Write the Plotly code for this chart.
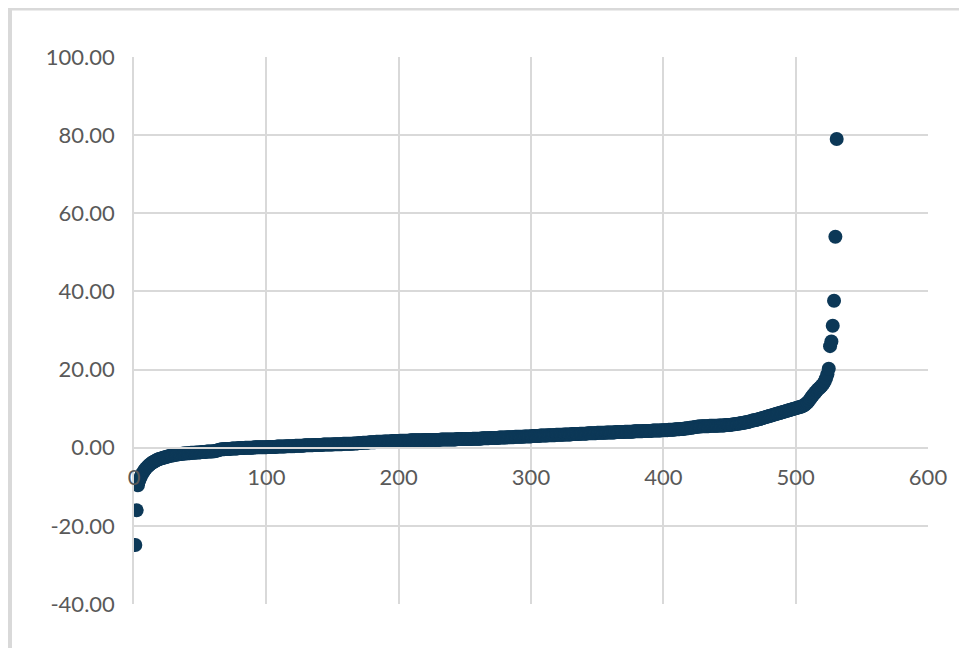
import plotly.graph_objects as go

# Sorted values, index starts at 1
values = [
    -24.9, -16.0, -9.6, -8.4, -7.5, -6.8, -6.2, -5.7, -5.3, -4.9,
    -4.6, -4.3, -4.0, -3.8, -3.6, -3.4, -3.2, -3.0, -2.9, -2.8,
    -2.7, -2.6, -2.5, -2.4, -2.3, -2.2, -2.1, -2.0, -2.0, -1.9,
    -1.8, -1.8, -1.7, -1.7, -1.6, -1.6, -1.5, -1.5, -1.5, -1.4,
    -1.4, -1.4, -1.3, -1.3, -1.3, -1.3, -1.2, -1.2, -1.2, -1.2,
    -1.1, -1.1, -1.1, -1.1, -1.0, -1.0, -1.0, -1.0, -1.0, -0.9,
    -0.9, -0.8, -0.7, -0.6, -0.5, -0.4, -0.4, -0.4, -0.3, -0.3,
    -0.3, -0.3, -0.3, -0.2, -0.2, -0.2, -0.2, -0.2, -0.1, -0.1,
    -0.1, -0.1, -0.1, 0.0, 0.0, 0.0, 0.0, 0.0, 0.0, 0.0,
    0.1, 0.1, 0.1, 0.1, 0.1, 0.1, 0.1, 0.1, 0.1, 0.1,
    0.2, 0.2, 0.2, 0.2, 0.2, 0.2, 0.2, 0.3, 0.3, 0.3,
    0.3, 0.3, 0.3, 0.3, 0.4, 0.4, 0.4, 0.4, 0.4, 0.4,
    0.4, 0.5, 0.5, 0.5, 0.5, 0.5, 0.5, 0.5, 0.6, 0.6,
    0.6, 0.6, 0.6, 0.6, 0.6, 0.7, 0.7, 0.7, 0.7, 0.7,
    0.7, 0.7, 0.8, 0.8, 0.8, 0.8, 0.8, 0.8, 0.8, 0.8,
    0.9, 0.9, 0.9, 0.9, 0.9, 0.9, 0.9, 1.0, 1.0, 1.0,
    1.0, 1.0, 1.0, 1.0, 1.0, 1.1, 1.1, 1.1, 1.1, 1.2,
    1.2, 1.2, 1.3, 1.3, 1.3, 1.3, 1.3, 1.4, 1.4, 1.4,
    1.4, 1.4, 1.5, 1.5, 1.5, 1.5, 1.5, 1.5, 1.6, 1.6,
    1.6, 1.6, 1.6, 1.6, 1.7, 1.7, 1.7, 1.7, 1.7, 1.7,
    1.8, 1.8, 1.8, 1.8, 1.8, 1.8, 1.8, 1.8, 1.9, 1.9,
    1.9, 1.9, 1.9, 1.9, 1.9, 1.9, 1.9, 1.9, 2.0, 2.0,
    2.0, 2.0, 2.0, 2.0, 2.0, 2.0, 2.0, 2.0, 2.0, 2.0,
    2.0, 2.1, 2.1, 2.1, 2.1, 2.1, 2.1, 2.1, 2.1, 2.1,
    2.1, 2.1, 2.1, 2.2, 2.2, 2.2, 2.2, 2.2, 2.2, 2.2,
    2.2, 2.2, 2.2, 2.2, 2.2, 2.3, 2.3, 2.3, 2.3, 2.3,
    2.3, 2.3, 2.4, 2.4, 2.4, 2.4, 2.4, 2.4, 2.5, 2.5,
    2.5, 2.5, 2.5, 2.5, 2.5, 2.6, 2.6, 2.6, 2.6, 2.6,
    2.6, 2.7, 2.7, 2.7, 2.7, 2.7, 2.7, 2.8, 2.8, 2.8,
    2.8, 2.8, 2.8, 2.8, 2.9, 2.9, 2.9, 2.9, 2.9, 2.9,
    3.0, 3.0, 3.0, 3.0, 3.0, 3.0, 3.1, 3.1, 3.1, 3.1,
    3.1, 3.1, 3.2, 3.2, 3.2, 3.2, 3.2, 3.2, 3.3, 3.3,
    3.3, 3.3, 3.3, 3.3, 3.4, 3.4, 3.4, 3.4, 3.4, 3.4,
    3.5, 3.5, 3.5, 3.5, 3.5, 3.5, 3.6, 3.6, 3.6, 3.6,
    3.6, 3.6, 3.7, 3.7, 3.7, 3.7, 3.7, 3.7, 3.7, 3.8,
    3.8, 3.8, 3.8, 3.8, 3.8, 3.8, 3.9, 3.9, 3.9, 3.9,
    3.9, 3.9, 3.9, 4.0, 4.0, 4.0, 4.0, 4.0, 4.0, 4.0,
    4.1, 4.1, 4.1, 4.1, 4.1, 4.1, 4.1, 4.2, 4.2, 4.2,
    4.2, 4.2, 4.2, 4.2, 4.3, 4.3, 4.3, 4.3, 4.3, 4.3,
    4.3, 4.4, 4.4, 4.4, 4.4, 4.4, 4.4, 4.4, 4.5, 4.5,
    4.5, 4.5, 4.5, 4.6, 4.6, 4.6, 4.6, 4.6, 4.7, 4.7,
    4.7, 4.7, 4.8, 4.8, 4.8, 4.9, 4.9, 5.0, 5.0, 5.1,
    5.1, 5.2, 5.2, 5.3, 5.3, 5.4, 5.4, 5.4, 5.5, 5.5,
    5.5, 5.5, 5.5, 5.5, 5.6, 5.6, 5.6, 5.6, 5.6, 5.6,
    5.6, 5.7, 5.7, 5.7, 5.7, 5.7, 5.8, 5.8, 5.8, 5.8,
    5.9, 5.9, 6.0, 6.0, 6.1, 6.1, 6.2, 6.2, 6.3, 6.3,
    6.4, 6.5, 6.5, 6.6, 6.7, 6.8, 6.9, 7.0, 7.0, 7.1,
    7.2, 7.3, 7.4, 7.5, 7.6, 7.7, 7.8, 7.9, 8.0, 8.1,
    8.2, 8.3, 8.4, 8.5, 8.6, 8.7, 8.8, 8.9, 9.0, 9.1,
    9.2, 9.3, 9.4, 9.5, 9.6, 9.7, 9.8, 9.9, 10.0, 10.1,
    10.2, 10.3, 10.4, 10.5, 10.6, 10.8, 11.0, 11.3, 11.6, 12.0,
    12.5, 13.0, 13.4, 13.8, 14.2, 14.6, 15.0, 15.3, 15.6, 16.0,
    16.4, 17.0, 17.8, 18.8, 20.2,
    26.0, 27.2, 31.2, 37.6, 54.0, 79.0,
]
index = list(range(1, len(values) + 1))

x_ticks = [0, 100, 200, 300, 400, 500, 600]
y_ticks = [-40, -20, 0, 20, 40, 60, 80, 100]

MARK = "#0c3857"
GRID = "#d9d9d9"
TEXT = "#595959"
FONT = "Lato, 'Open Sans', sans-serif"

fig = go.Figure()
fig.add_trace(go.Scatter(
    x=index, y=values, mode="markers",
    marker=dict(size=14, color=MARK, line=dict(width=0)),
    showlegend=False, hoverinfo="x+y",
))

fig.update_layout(
    width=967, height=648,
    margin=dict(l=126, r=47, t=49, b=52),
    paper_bgcolor="white", plot_bgcolor="white",
    font=dict(family=FONT, size=22, color=TEXT),
    xaxis=dict(
        range=[0, 600], tickvals=x_ticks, ticktext=[str(v) for v in x_ticks],
        showgrid=True, gridcolor=GRID, gridwidth=1.5,
        zeroline=False, showline=True, linecolor=GRID, linewidth=1.5,
        anchor="free", position=(0 - y_ticks[0]) / (y_ticks[-1] - y_ticks[0]),
        ticks="", ticklabelstandoff=10,
    ),
    yaxis=dict(
        range=[-40, 100], tickvals=y_ticks, ticktext=[f"{v:.2f}" for v in y_ticks],
        showgrid=True, gridcolor=GRID, gridwidth=1.5,
        zeroline=False, showline=True, linecolor=GRID, linewidth=1.5,
        ticks="", ticklabelstandoff=13,
    ),
)

# chart-area border (clipped by the window on the right and bottom)
fig.add_shape(type="rect", xref="paper", yref="paper",
              x0=-0.1562, y0=-0.2, x1=1.2, y1=1.0887,
              line=dict(color=GRID, width=4), fillcolor="rgba(0,0,0,0)",
              layer="below")

fig.write_html("out.html")
